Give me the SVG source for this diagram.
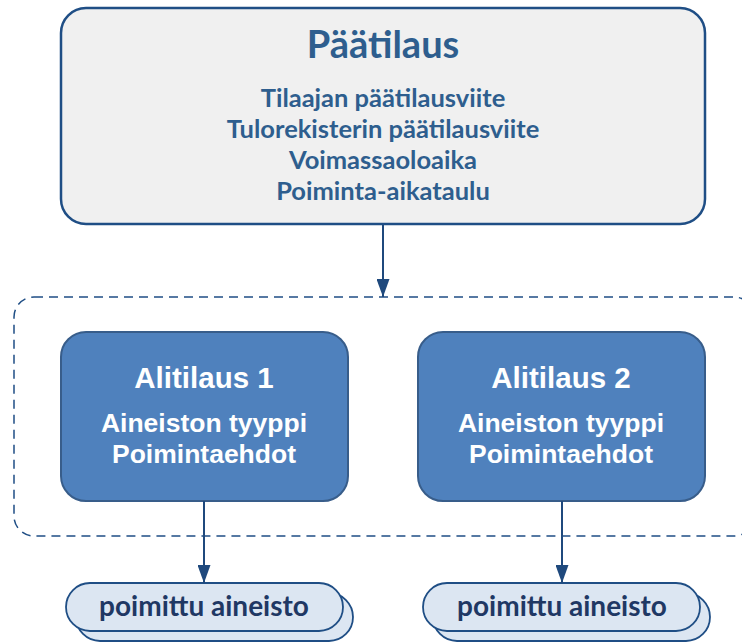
<svg xmlns="http://www.w3.org/2000/svg" width="742" height="644" viewBox="0 0 742 644">
<defs>
<style>
.main{fill:#f0f0f0;stroke:#1f4e85;stroke-width:2.5}
.sub{fill:#4f81bd;stroke:#385d8a;stroke-width:2}
.pill{fill:#dce6f2;stroke:#1f4e85;stroke-width:1.8}
.grp{fill:none;stroke:#1f4e85;stroke-width:1.5;stroke-dasharray:9 6}
.conn{stroke:#1f497d;stroke-width:2;fill:none}
.ct{font-family:Lato,"Open Sans",sans-serif;font-weight:bold;text-anchor:middle}
.at{font-family:"Liberation Sans",Arial,sans-serif;font-weight:bold;text-anchor:middle;fill:#ffffff}
</style>
<marker id="ah2" viewBox="0 0 18 13" refX="18" refY="6.5" markerWidth="18" markerHeight="13" markerUnits="userSpaceOnUse" orient="auto">
<path d="M0,0 L18,6.5 L0,13 z" fill="#1f497d"/>
</marker>
</defs>
<g id="group-box">
<rect class="grp" x="14" y="297" width="740" height="239" rx="20" ry="20"/>
</g>
<g id="paatilaus">
<rect class="main" x="61" y="8" width="644" height="216" rx="25" ry="25"/>
<text class="ct" x="383" y="58" font-size="38" fill="#2e5e8e">Päätilaus</text>
<text class="ct" x="383" y="107" font-size="25.5" fill="#2e5e8e">Tilaajan päätilausviite</text>
<text class="ct" x="383" y="138" font-size="25.5" fill="#2e5e8e">Tulorekisterin päätilausviite</text>
<text class="ct" x="383" y="169" font-size="25.5" fill="#2e5e8e">Voimassaoloaika</text>
<text class="ct" x="383" y="200" font-size="25.5" fill="#2e5e8e">Poiminta-aikataulu</text>
</g>
<g id="alitilaus1">
<rect class="sub" x="61" y="332" width="287" height="169" rx="25" ry="25"/>
<text class="at" x="204" y="388" font-size="29.5">Alitilaus 1</text>
<text class="at" x="204" y="432" font-size="26.5">Aineiston tyyppi</text>
<text class="at" x="204" y="463" font-size="26.5">Poimintaehdot</text>
</g>
<g id="alitilaus2">
<rect class="sub" x="418" y="332" width="287" height="169" rx="25" ry="25"/>
<text class="at" x="561" y="388" font-size="29.5">Alitilaus 2</text>
<text class="at" x="561" y="432" font-size="26.5">Aineiston tyyppi</text>
<text class="at" x="561" y="463" font-size="26.5">Poimintaehdot</text>
</g>
<g id="aineisto1">
<rect class="pill" x="76" y="593" width="277" height="48" rx="24" ry="24"/>
<rect class="pill" x="66" y="583" width="277" height="48" rx="24" ry="24"/>
<text class="ct" x="204" y="616" font-size="28" fill="#1f3864">poimittu aineisto</text>
</g>
<g id="aineisto2">
<rect class="pill" x="433" y="593" width="277" height="48" rx="24" ry="24"/>
<rect class="pill" x="423" y="583" width="277" height="48" rx="24" ry="24"/>
<text class="ct" x="562" y="616" font-size="28" fill="#1f3864">poimittu aineisto</text>
</g>
<g id="connectors">
<line class="conn" x1="383" y1="225" x2="383" y2="297" marker-end="url(#ah2)"/>
<line class="conn" x1="204" y1="501" x2="204" y2="583" marker-end="url(#ah2)"/>
<line class="conn" x1="562" y1="501" x2="562" y2="583" marker-end="url(#ah2)"/>
</g>
</svg>
